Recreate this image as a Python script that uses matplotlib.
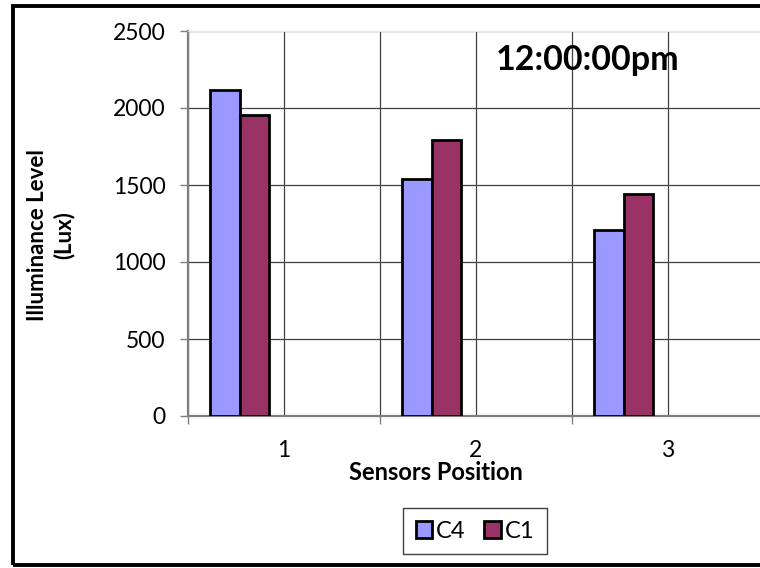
import matplotlib.pyplot as plt
from matplotlib.patches import Rectangle, Patch
import numpy as np

plt.rcParams['font.family'] = ['Lato', 'DejaVu Sans']

positions = ['1', '2', '3']
c4 = [2115, 1540, 1205]
c1 = [1955, 1790, 1440]
series_names = ['C4', 'C1']
colors = ['#9999FF', '#993366']
title_text = '12:00:00pm'

W, H = 760, 568
fig = plt.figure(figsize=(W / 100, H / 100), dpi=100)
# plot area runs past the right edge, like the cropped original
ax = fig.add_axes([188 / W, (H - 416) / H, 576 / W, 385 / H])

# five series slots per category (only two filled), gap 150%
w = 1 / 6.5
x = np.arange(len(positions))
for j, (vals, name, col) in enumerate(zip([c4, c1], series_names, colors)):
    ax.bar(x + 0.5 + (j - 2) * w, vals, width=w, color=col, edgecolor='black',
           linewidth=2, zorder=3, label=name)

ax.set_xlim(0, 3)
ax.set_ylim(0, 2500)
ax.set_yticks(np.arange(0, 2501, 500))
ax.set_xticks(x + 0.5)
ax.set_xticklabels(positions)
ax.set_xticks(np.arange(0, 3.01, 1), minor=True)

ax.tick_params(axis='y', length=6, width=1, color='#808080', pad=10, labelsize=16.5)
ax.tick_params(axis='x', which='major', length=0, pad=17, labelsize=16.5)
ax.tick_params(axis='x', which='minor', length=6, width=1, color='#808080', direction='out')

ax.grid(axis='y', color='#404040', linewidth=0.9, zorder=0)
ax.grid(axis='x', which='both', color='#404040', linewidth=0.9, zorder=0)
ax.set_axisbelow(True)

for s in ['left', 'bottom']:
    ax.spines[s].set_color('#808080')
    ax.spines[s].set_linewidth(1.6)
ax.spines['top'].set_color('#e6e6e6')
ax.spines['right'].set_visible(False)

fig.text(588 / W, 1 - 60 / H, title_text, ha='center', va='center',
         fontsize=24.5, fontweight='bold')
fig.text(51 / W, 1 - 235 / H, 'Illuminance Level\n(Lux)', ha='center', va='center',
         rotation=90, fontsize=16, fontweight='bold', linespacing=1.25)
fig.text(436 / W, 1 - 473 / H, 'Sensors Position', ha='center', va='center',
         fontsize=17, fontweight='bold')

handles = [Patch(facecolor=c, edgecolor='black', linewidth=2) for c in colors]
leg = fig.legend(handles, series_names, loc='center', bbox_to_anchor=(475 / W, 1 - 531 / H),
                 ncol=2, fontsize=17, frameon=True, fancybox=False, framealpha=1,
                 handlelength=0.7, handleheight=0.7, handletextpad=0.15,
                 columnspacing=0.8, borderpad=0.55)
leg.get_frame().set_edgecolor('#404040')
leg.get_frame().set_linewidth(1)

# outer chart border
fig.add_artist(Rectangle((13 / W, 3 / H), 1.0, (H - 9) / H, transform=fig.transFigure,
                         fill=False, edgecolor='black', linewidth=2.8))

fig.savefig('out.png', dpi=100)
